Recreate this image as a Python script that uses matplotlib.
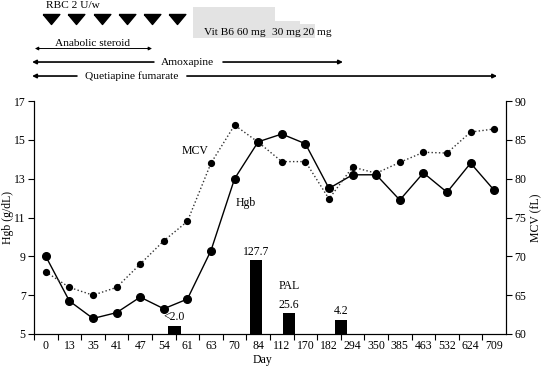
import numpy as np
import matplotlib.pyplot as plt
from matplotlib.patches import Rectangle

plt.rcParams['font.family'] = ['Liberation Serif', 'DejaVu Serif']
plt.rcParams['font.size'] = 8.5

days = ['0', '13', '35', '41', '47', '54', '61', '63', '70', '84',
        '112', '170', '182', '294', '350', '385', '463', '532', '624', '709']
hgb = [9.0, 6.7, 5.8, 6.1, 6.9, 6.3, 6.8, 9.3, 13.0, 14.9,
       15.3, 14.8, 12.5, 13.2, 13.2, 11.9, 13.3, 12.3, 13.8, 12.4]
mcv = [68.0, 66.0, 65.0, 66.0, 69.0, 72.0, 74.5, 82.0, 86.9, 84.7,
       82.2, 82.2, 77.4, 81.5, 80.7, 82.1, 83.4, 83.3, 86.0, 86.4]

# PAL bars (position on day axis, drawn height on Hgb scale, label)
pal_pos = [5.45, 8.9, 10.3, 12.5]
pal_height = [0.43, 3.79, 1.06, 0.74]
pal_labels = ['<2.0', '127.7', '25.6', '4.2']

# treatment timeline (x in day-axis units)
rbc_x = [0.21, 1.29, 2.37, 3.43, 4.5, 5.55]
vitb6 = [(6.22, 9.71, 60), (9.71, 10.77, 30), (10.77, 11.41, 20)]

fig = plt.figure(figsize=(5.42, 3.68), dpi=100)
ax = fig.add_axes([0.0627, 0.0924, 0.8709, 0.6331])
ax2 = ax.twinx()

x = np.arange(len(days))
ax.bar(pal_pos, pal_height, width=0.53, bottom=5, color='black', zorder=2)
for p, h, lab in zip(pal_pos, pal_height, pal_labels):
    ax.text(p, 5 + h + 0.12, lab, ha='center', va='bottom', zorder=5)
ax.text(10.3, 7.47, 'PAL', ha='center', va='center')

ax.plot(x, hgb, '-o', color='black', lw=1.0, ms=5.5, zorder=3)
ax2.plot(x, mcv, ':o', color='#333333', mfc='black', mec='black',
         lw=1.0, ms=4.2, zorder=3)
ax.text(6.32, 14.45, 'MCV', ha='center', va='center')
ax.text(8.46, 11.75, 'Hgb', ha='center', va='center')

ax.set_xlim(-0.5, 19.5)
ax.set_ylim(5, 17)
ax2.set_ylim(60, 90)
ax.set_yticks(np.arange(5, 18, 2))
ax2.set_yticks(np.arange(60, 91, 5))
ax.set_xticks(np.arange(-0.5, 19.5, 1))
ax.set_xticklabels([])
ax.set_xticks(x, minor=True)
ax.set_xticklabels(days, minor=True)
ax.tick_params(axis='x', which='major', length=4, direction='out')
ax.tick_params(axis='x', which='minor', length=0, pad=4)
ax.tick_params(axis='y', length=4, pad=2)
ax2.tick_params(axis='y', length=4, pad=2)
for a in (ax, ax2):
    a.spines['top'].set_visible(False)
    for s in a.spines.values():
        s.set_linewidth(0.8)
ax.set_xlabel('Day', va='center')
ax.set_ylabel('Hgb (g/dL)', va='center')
ax2.set_ylabel('MCV (fL)', va='center')
ax.xaxis.set_label_coords(0.485, -0.112)
ax.yaxis.set_label_coords(-0.055, 0.5)
ax2.yaxis.set_label_coords(1.0636, 0.5)

# timeline above the plot
tr = ax.get_xaxis_transform()


def yy(py):
    return (334 - py) / 233.0


fs = 8.2
ax.text(1.15, yy(5), 'RBC 2 U/w', transform=tr, ha='center', va='center',
        clip_on=False, fontsize=fs)
tri = [(-1, 0.6), (1, 0.6), (0, -0.6), (-1, 0.6)]
ax.plot(rbc_x, [yy(19)] * len(rbc_x), linestyle='none', marker=tri,
        ms=12, color='black', transform=tr, clip_on=False)

tops = {60: 7, 30: 21, 20: 23.5}
for x0, x1, dose in vitb6:
    ax.add_patch(Rectangle((x0, yy(37.5)), x1 - x0, yy(tops[dose]) - yy(37.5),
                           transform=tr, color='#e3e3e3', lw=0, clip_on=False))
ax.text(6.70, yy(32), 'Vit B6 60 mg', transform=tr, va='center',
        clip_on=False, fontsize=fs)
ax.text(9.58, yy(32), '30 mg', transform=tr, va='center', clip_on=False,
        fontsize=fs)
ax.text(10.90, yy(32), '20 mg', transform=tr, va='center', clip_on=False,
        fontsize=fs)

thin = dict(arrowstyle='<|-|>', lw=0.7, color='black', mutation_scale=5,
            shrinkA=0, shrinkB=0)
ax.annotate('', xy=(-0.46, yy(48.5)), xytext=(4.5, yy(48.5)),
            xycoords=tr, textcoords=tr, arrowprops=thin, annotation_clip=False)
ax.text(2.0, yy(43), 'Anabolic steroid', transform=tr, ha='center',
        va='center', clip_on=False, fontsize=fs)

thick = dict(arrowstyle='-|>', lw=1.2, color='black', mutation_scale=6,
             shrinkA=0, shrinkB=0)
ax.annotate('', xy=(-0.58, yy(62)), xytext=(4.58, yy(62)),
            xycoords=tr, textcoords=tr, arrowprops=thick, annotation_clip=False)
ax.text(6.0, yy(62), 'Amoxapine', transform=tr, ha='center', va='center',
        clip_on=False, fontsize=fs)
ax.annotate('', xy=(12.59, yy(62)), xytext=(7.51, yy(62)),
            xycoords=tr, textcoords=tr, arrowprops=thick, annotation_clip=False)

ax.annotate('', xy=(-0.58, yy(76)), xytext=(1.32, yy(76)),
            xycoords=tr, textcoords=tr, arrowprops=thick, annotation_clip=False)
ax.text(3.65, yy(76), 'Quetiapine fumarate', transform=tr, ha='center',
        va='center', clip_on=False, fontsize=fs)
ax.annotate('', xy=(19.12, yy(76)), xytext=(5.98, yy(76)),
            xycoords=tr, textcoords=tr, arrowprops=thick, annotation_clip=False)

fig.savefig('out.png', dpi=100)
